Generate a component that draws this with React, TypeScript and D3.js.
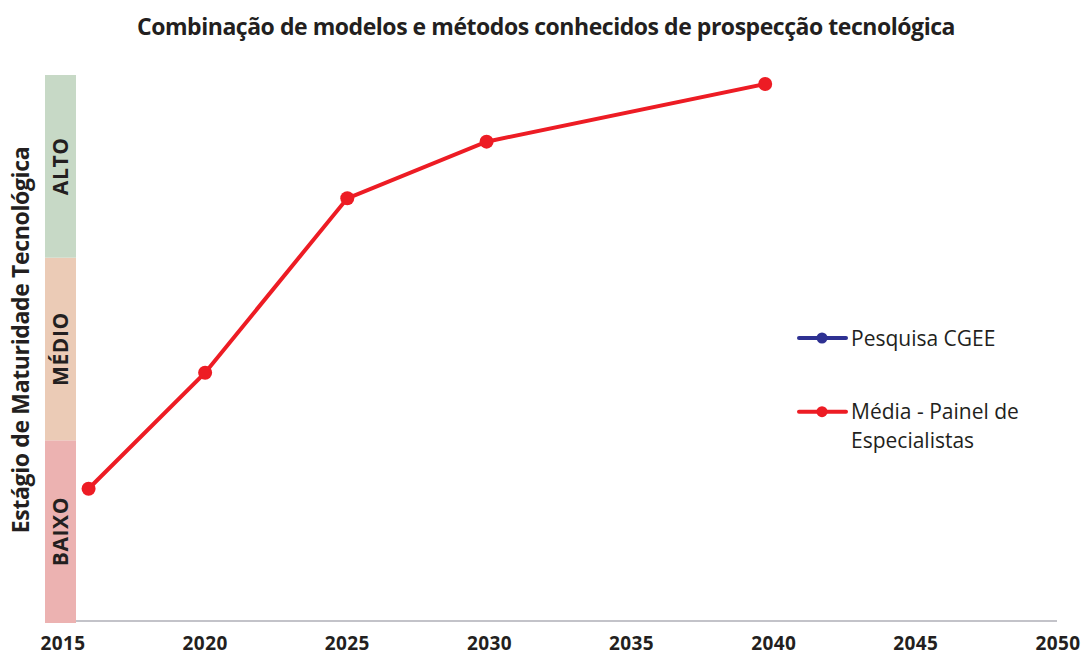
import React from "react";
import * as d3 from "d3";

const W = 1086;
const H = 657;

const title = "Combinação de modelos e métodos conhecidos de prospecção tecnológica";
const yTitle = "Estágio de Maturidade Tecnológica";

// years as they sit on the axis
const years = [2015.9, 2020, 2025, 2029.9, 2039.7];
const mediaPainel = [0.735, 1.37, 2.325, 2.635, 2.951];

const xTicks = [2015, 2020, 2025, 2030, 2035, 2040, 2045, 2050];

const levels = ["BAIXO", "MÉDIO", "ALTO"];
const levelColors = ["#ecb2b1", "#ebcbb6", "#c7d9c6"];

const legendItems = [
  { label: ["Pesquisa CGEE"], color: "#2e3192" },
  { label: ["Média - Painel de", "Especialistas"], color: "#ed1c24" },
];

const font = "'Open Sans', sans-serif";

export default function App() {
  const x = d3.scaleLinear().domain([2015, 2050]).range([63, 1058]);
  const y = d3.scaleLinear().domain([0, 3]).range([623, 75]);

  const pts = years.map((yr, i) => [x(yr), y(mediaPainel[i])] as [number, number]);
  const path = d3.line()(pts);

  return (
    <svg
      width={W}
      height={H}
      style={{ position: "absolute", left: 0, top: 0, background: "#fff" }}
    >
      <text
        x={546}
        y={35}
        textAnchor="middle"
        fontFamily={font}
        fontWeight={700}
        fontSize={23}
        letterSpacing={-0.46}
        fill="#231f20"
      >
        {title}
      </text>

      {/* maturity bands */}
      {levels.map((lv, i) => (
        <g key={lv}>
          <rect
            x={45}
            width={31}
            y={y(i + 1)}
            height={y(i) - y(i + 1)}
            fill={levelColors[i]}
          />
          <text
            transform={`translate(${68},${(y(i) + y(i + 1)) / 2}) rotate(-90)`}
            textAnchor="middle"
            fontFamily={font}
            fontWeight={700}
            fontSize={21}
            letterSpacing={0.6}
            fill="#231f20"
          >
            {lv}
          </text>
        </g>
      ))}

      <text
        transform="translate(29,340) rotate(-90)"
        textAnchor="middle"
        fontFamily={font}
        fontWeight={700}
        fontSize={23}
        letterSpacing={-0.36}
        fill="#231f20"
      >
        {yTitle}
      </text>

      {/* x axis */}
      <line x1={76} x2={1057} y1={621} y2={621} stroke="#c3c3c9" strokeWidth={2} />
      {xTicks.map((t) => (
        <text
          key={t}
          x={x(t)}
          y={650}
          textAnchor="middle"
          fontFamily={font}
          fontWeight={700}
          fontSize={19}
          letterSpacing={0.4}
          fill="#231f20"
        >
          {t}
        </text>
      ))}

      {/* series */}
      <path d={path ?? ""} fill="none" stroke="#ed1c24" strokeWidth={4} />
      {pts.map((p, i) => (
        <circle key={i} cx={p[0]} cy={p[1]} r={7} fill="#ed1c24" />
      ))}

      {/* legend */}
      {legendItems.map((it, i) => {
        const ly = 338 + i * 73.7;
        return (
          <g key={i}>
            <line x1={799} x2={846} y1={ly} y2={ly} stroke={it.color} strokeWidth={4} strokeLinecap="round" />
            <circle cx={822} cy={ly} r={5.5} fill={it.color} />
            {it.label.map((s, j) => (
              <text
                key={j}
                x={851}
                y={ly + 7.5 + j * 29}
                fontFamily={font}
                fontSize={21}
                fill="#231f20"
              >
                {s}
              </text>
            ))}
          </g>
        );
      })}
    </svg>
  );
}
